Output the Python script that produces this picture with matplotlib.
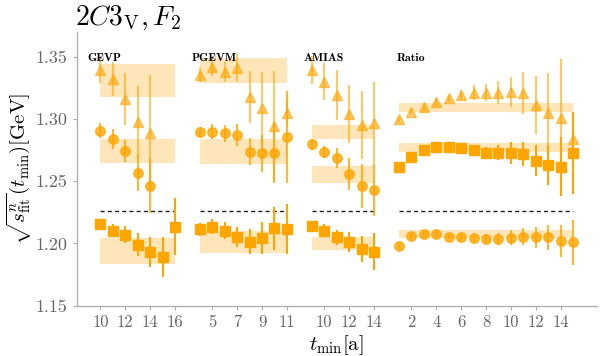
import matplotlib.pyplot as plt

plt.rcParams['font.family'] = 'serif'
plt.rcParams['font.serif'] = ['cmr10']
plt.rcParams['mathtext.fontset'] = 'cm'
plt.rcParams['axes.formatter.use_mathtext'] = True

# GEVP
gevp_t = [10, 11, 12, 13, 14, 15, 16]
gevp_tri = [1.3392, 1.3317, 1.3160, 1.2977, 1.2890]
gevp_tri_err = [0.010, 0.0137, 0.021, 0.029, 0.046]
gevp_circ = [1.2904, 1.2838, 1.2742, 1.2567, 1.2463]
gevp_circ_err = [0.006, 0.0078, 0.009, 0.015, 0.022]
gevp_sq = [1.2153, 1.2102, 1.2070, 1.1990, 1.1933, 1.1893, 1.2134]
gevp_sq_err = [0.003, 0.005, 0.0067, 0.009, 0.012, 0.016, 0.023]
gevp_band_lo = [1.3177, 1.2643, 1.1832]
gevp_band_hi = [1.3440, 1.2838, 1.2046]

# PGEVM
pgevm_t = [4, 5, 6, 7, 8, 9, 10, 11]
pgevm_tri = [1.3355, 1.3415, 1.3380, 1.3410, 1.3173, 1.3084, 1.2942, 1.3044]
pgevm_tri_err = [0.006, 0.007, 0.008, 0.011, 0.021, 0.029, 0.044, 0.011]
pgevm_circ = [1.2892, 1.2897, 1.2883, 1.2870, 1.2736, 1.2723, 1.2723, 1.2852]
pgevm_circ_err = [0.004, 0.006, 0.007, 0.009, 0.011, 0.015, 0.0235, 0.037]
pgevm_sq = [1.2113, 1.2134, 1.2102, 1.2054, 1.2014, 1.2046, 1.2121, 1.2113]
pgevm_sq_err = [0.005, 0.006, 0.007, 0.008, 0.010, 0.013, 0.017, 0.020]
pgevm_band_lo = [1.3285, 1.2635, 1.1925]
pgevm_band_hi = [1.3486, 1.2838, 1.2100]

# AMIAS
amias_t = [9, 10, 11, 12, 13, 14]
amias_tri = [1.3392, 1.3298, 1.3191, 1.3039, 1.2951, 1.2964]
amias_tri_err = [0.011, 0.015, 0.020, 0.023, 0.027, 0.033]
amias_circ = [1.2795, 1.2736, 1.2683, 1.2555, 1.2461, 1.2429]
amias_circ_err = [0.0047, 0.005, 0.008, 0.0127, 0.0174, 0.021]
amias_sq = [1.2142, 1.2102, 1.2049, 1.2014, 1.1955, 1.1933]
amias_sq_err = [0.003, 0.005, 0.006, 0.008, 0.0105, 0.015]
amias_band_lo = [1.2838, 1.2487, 1.1947]
amias_band_hi = [1.2950, 1.2621, 1.2049]

# Ratio
ratio_t = list(range(1, 16))
ratio_tri = [1.2998, 1.3057, 1.3097, 1.3137, 1.3164, 1.3191, 1.3210, 1.3210,
             1.3210, 1.3215, 1.3210, 1.3111, 1.3049, 1.3004, 1.2836]
ratio_tri_err = [0.002, 0.002, 0.003, 0.003, 0.003, 0.004, 0.006, 0.0067,
                 0.0094, 0.012, 0.0167, 0.0234, 0.032, 0.048, 0.020]
ratio_circ = [1.1979, 1.2059, 1.2075, 1.2073, 1.2054, 1.2049, 1.2041, 1.2035,
              1.2035, 1.2046, 1.2054, 1.2049, 1.2049, 1.2019, 1.2009]
ratio_circ_err = [0.002, 0.002, 0.002, 0.002, 0.002, 0.003, 0.003, 0.004,
                  0.0045, 0.006, 0.0067, 0.0083, 0.0098, 0.013, 0.018]
ratio_sq = [1.2616, 1.2696, 1.2750, 1.2776, 1.2776, 1.2763, 1.2750, 1.2728,
            1.2728, 1.2728, 1.2718, 1.2664, 1.2632, 1.2616, 1.2728]
ratio_sq_err = [0.002, 0.002, 0.002, 0.002, 0.003, 0.003, 0.004, 0.005,
                0.006, 0.0087, 0.010, 0.0124, 0.016, 0.0235, 0.033]
ratio_band_lo = [1.3057, 1.2046, 1.2736]
ratio_band_hi = [1.3130, 1.2107, 1.2808]

plateau = 1.2262

panel_names = ['GEVP', 'PGEVM', 'AMIAS', 'Ratio']
panel_ticks = [[10, 12, 14, 16], [5, 7, 9, 11], [10, 12, 14], [2, 4, 6, 8, 10, 12, 14]]

panels = [
    (gevp_t, gevp_tri, gevp_tri_err, gevp_circ, gevp_circ_err, gevp_sq, gevp_sq_err,
     gevp_band_lo, gevp_band_hi),
    (pgevm_t, pgevm_tri, pgevm_tri_err, pgevm_circ, pgevm_circ_err, pgevm_sq, pgevm_sq_err,
     pgevm_band_lo, pgevm_band_hi),
    (amias_t, amias_tri, amias_tri_err, amias_circ, amias_circ_err, amias_sq, amias_sq_err,
     amias_band_lo, amias_band_hi),
    (ratio_t, ratio_tri, ratio_tri_err, ratio_circ, ratio_circ_err, ratio_sq, ratio_sq_err,
     ratio_band_lo, ratio_band_hi),
]

color = 'orange'
label_dx = [-1.07, -0.66, -0.7, -0.2]

fig = plt.figure(figsize=(6.12, 3.56), dpi=100)
ax = fig.add_axes([0.1253, 0.1413, 0.8497, 0.7697])

tick_pos, tick_lab = [], []
start = 0
for name, ticks, dx, p in zip(panel_names, panel_ticks, label_dx, panels):
    t, tri, tri_e, circ, circ_e, sq, sq_e, blo, bhi = p
    # panels sit side by side on one axis, 2 units apart
    off = start - t[0]
    x = [v + off for v in t]
    x0, x1 = x[0], x[-1]
    for lo, hi in zip(blo, bhi):
        ax.fill_between([x0, x1], lo, hi, color=color, alpha=0.27, lw=0, zorder=1)
    ax.plot([x0, x1], [plateau, plateau], color='#222222', lw=1.0,
            dashes=(3, 2.2), zorder=2)
    ax.errorbar(x[:len(tri)], tri, yerr=tri_e, fmt='^', color=color, ms=7.5,
                elinewidth=1.5, alpha=0.6, zorder=3)
    ax.errorbar(x[:len(circ)], circ, yerr=circ_e, fmt='o', color=color, ms=6.8,
                elinewidth=1.5, alpha=0.8, zorder=4)
    ax.errorbar(x[:len(sq)], sq, yerr=sq_e, fmt='s', color=color, ms=7,
                elinewidth=1.5, alpha=1.0, zorder=5)
    ax.text(x0 + dx, 1.3489, name, fontfamily='cmb10', fontsize=8.5, va='center', ha='left')
    for tk in ticks:
        tick_pos.append(tk + off)
        tick_lab.append(str(tk))
    start = x1 + 2

ax.set_xlim(-1.9, 39.9)
ax.set_ylim(1.15, 1.37)
ax.set_xticks(tick_pos)
ax.set_xticklabels(tick_lab)
ax.set_yticks([1.15, 1.20, 1.25, 1.30, 1.35])
ax.set_yticklabels(['1.15', '1.20', '1.25', '1.30', '1.35'])

for s in ['top', 'right']:
    ax.spines[s].set_visible(False)
for s in ['left', 'bottom']:
    ax.spines[s].set_color('#b0b0b0')
    ax.spines[s].set_linewidth(1.0)
ax.tick_params(colors='#b0b0b0', labelcolor='#666666', labelsize=12, length=3)
ax.tick_params(axis='y', labelsize=13)

ax.set_xlabel(r'$t_{\rm min}[\rm a]$', fontsize=15, labelpad=2)
ax.set_ylabel(r'$\sqrt{s^n_{\rm fit}}(t_{\rm min})[\rm GeV]$', fontsize=15, labelpad=2)
fig.text(0.123, 0.99, r'$2C3_{\rm V}, F_2$', fontsize=20, va='top', ha='left')

fig.savefig('out.png', dpi=100)
